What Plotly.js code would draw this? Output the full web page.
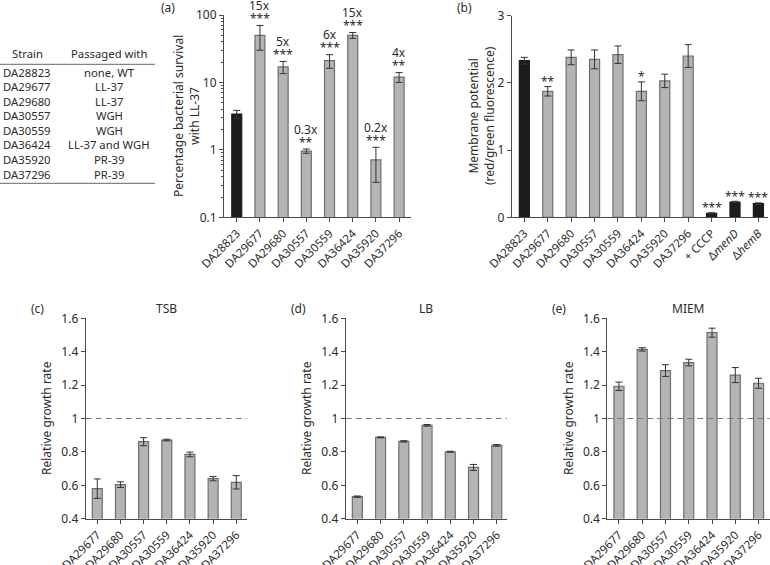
<!DOCTYPE html>
<html>
<head>
<meta charset="utf-8">
<script src="https://cdn.plot.ly/plotly-3.0.1.min.js"></script>
<style>html,body{margin:0;padding:0;background:#fff}#chart{width:770px;height:565px}</style>
</head>
<body>
<div id="chart"></div>
<script>
// ---------- data ----------
const tableStrains = ["DA28823","DA29677","DA29680","DA30557","DA30559","DA36424","DA35920","DA37296"];
const tablePassaged = ["none, WT","LL-37","LL-37","WGH","WGH","LL-37 and WGH","PR-39","PR-39"];

const strainsA = ["DA28823","DA29677","DA29680","DA30557","DA30559","DA36424","DA35920","DA37296"];
const survivalA = [3.4, 50, 17, 0.96, 21, 50, 0.71, 12];
const survivalErrA = [0.45, 20, 3.5, 0.07, 4.8, 5, 0.38, 2];
const foldA = ["", "15x", "5x", "0.3x", "6x", "15x", "0.2x", "4x"];
const sigA = ["", "***", "***", "**", "***", "***", "***", "**"];

const strainsB = ["DA28823","DA29677","DA29680","DA30557","DA30559","DA36424","DA35920","DA37296","+ CCCP","Δ<i>menD</i>","Δ<i>hemB</i>"];
const potentialB = [2.33, 1.875, 2.38, 2.35, 2.42, 1.875, 2.03, 2.40, 0.06, 0.228, 0.203];
const potentialErrB = [0.05, 0.07, 0.11, 0.14, 0.13, 0.14, 0.1, 0.17, 0.008, 0.01, 0.012];
const sigB = ["", "**", "", "", "", "*", "", "", "***", "***", "***"];
const blackB = [true, false, false, false, false, false, false, false, true, true, true];

const strainsG = ["DA29677","DA29680","DA30557","DA30559","DA36424","DA35920","DA37296"];
const growthTSB = [0.58, 0.604, 0.861, 0.871, 0.785, 0.64, 0.618];
const growthTSBErr = [0.058, 0.017, 0.024, 0.005, 0.014, 0.013, 0.04];
const growthLB = [0.532, 0.887, 0.863, 0.959, 0.801, 0.707, 0.839];
const growthLBErr = [0.004, 0.003, 0.004, 0.005, 0.003, 0.018, 0.005];
const growthMIEM = [1.193, 1.414, 1.287, 1.335, 1.514, 1.26, 1.211];
const growthMIEMErr = [0.025, 0.01, 0.035, 0.02, 0.027, 0.045, 0.03];

// ---------- style ----------
const W = 770, H = 565;
const FONT = "Noto Sans, Open Sans, sans-serif";
const TXT = "#2b2b2b";
const AX = "#4a4a4a";
const GRAY = "#b4b4b4", GRAYLINE = "#6e6e6e", BLACK = "#1c1c1c";
const BARW = 0.43;
const xd = (a, b) => [a / W, b / W];
const yd = (top, bot) => [1 - bot / H, 1 - top / H];

const errStyle = arr => ({type: "data", array: arr, visible: true, color: "#333", thickness: 1, width: 3.5});

function barTrace(x, y, err, colors, xa, ya) {
  return {
    type: "bar", x: x, y: y, width: BARW, xaxis: xa, yaxis: ya,
    marker: {color: colors, line: {color: colors.map(c => c === BLACK ? BLACK : GRAYLINE), width: 1.2}},
    error_y: errStyle(err), hoverinfo: "skip", showlegend: false
  };
}

const traces = [
  barTrace(strainsA, survivalA, survivalErrA, strainsA.map((s, i) => i === 0 ? BLACK : GRAY), "x", "y"),
  barTrace(strainsB, potentialB, potentialErrB, blackB.map(b => b ? BLACK : GRAY), "x2", "y2"),
  barTrace(strainsG, growthTSB, growthTSBErr, strainsG.map(() => GRAY), "x3", "y3"),
  barTrace(strainsG, growthLB, growthLBErr, strainsG.map(() => GRAY), "x4", "y4"),
  barTrace(strainsG, growthMIEM, growthMIEMErr, strainsG.map(() => GRAY), "x5", "y5")
];

function xAxis(domain, range, anchor) {
  return {
    domain: domain, range: range, anchor: anchor, type: "category",
    showline: true, linecolor: AX, linewidth: 1, ticks: "outside", ticklen: 4, tickcolor: AX,
    tickangle: -45, tickfont: {size: 11.5, color: TXT, family: FONT},
    showgrid: false, zeroline: false, fixedrange: true
  };
}
function yAxis(domain, range, anchor, extra) {
  return Object.assign({
    domain: domain, range: range, anchor: anchor,
    showline: true, linecolor: AX, linewidth: 1, ticks: "outside", ticklen: 4, tickcolor: AX,
    tickfont: {size: 12, color: TXT, family: FONT},
    showgrid: false, zeroline: false, fixedrange: true
  }, extra || {});
}

const yTopA = yd(15, 217.3);
const yBot = yd(318.3, 518.7);

const layout = {
  width: W, height: H,
  margin: {l: 0, r: 0, t: 0, b: 0},
  paper_bgcolor: "#fff", plot_bgcolor: "rgba(0,0,0,0)",
  font: {family: FONT, color: TXT, size: 12},
  xaxis: xAxis(xd(224, 410.7), [-0.55, 7.5], "y"),
  yaxis: yAxis(yTopA, [-1, 2], "x", {type: "log", dtick: 1,
    minor: {dtick: "D1", ticks: "outside", ticklen: 2, tickcolor: AX, showgrid: false}}),
  xaxis2: xAxis(xd(511.7, 768), [-0.54, 10.41], "y2"),
  yaxis2: yAxis(yd(15.7, 217.3), [0, 3], "x2", {dtick: 1}),
  xaxis3: xAxis(xd(85.7, 246.7), [-0.5, 6.45], "y3"),
  yaxis3: yAxis(yBot, [0.4, 1.6], "x3", {dtick: 0.2}),
  xaxis4: xAxis(xd(345.7, 507), [-0.5, 6.44], "y4"),
  yaxis4: yAxis(yBot, [0.4, 1.6], "x4", {dtick: 0.2}),
  xaxis5: xAxis(xd(607.3, 769.5), [-0.5, 6.47], "y5"),
  yaxis5: yAxis(yBot, [0.4, 1.6], "x5", {dtick: 0.2}),
  shapes: [],
  annotations: []
};

// dashed reference lines at 1
["3", "4", "5"].forEach(k => {
  layout.shapes.push({type: "line", xref: "x" + k + " domain", yref: "y" + k, x0: 0, x1: 1, y0: 1, y1: 1,
    line: {color: "#7a7a7a", width: 1.2, dash: "6px,4px"}, layer: "above"});
});

// table
const tableLeft = 0, tableRight = 155;
layout.shapes.push({type: "line", xref: "paper", yref: "paper", x0: tableLeft / W, x1: tableRight / W, y0: 1 - 64.3 / H, y1: 1 - 64.3 / H, line: {color: "#666", width: 1}});
layout.shapes.push({type: "line", xref: "paper", yref: "paper", x0: tableLeft / W, x1: tableRight / W, y0: 1 - 183.3 / H, y1: 1 - 183.3 / H, line: {color: "#666", width: 1}});
function paperText(text, px, py, opts) {
  layout.annotations.push(Object.assign({
    text: text, xref: "paper", yref: "paper", x: px / W, y: 1 - py / H,
    xanchor: "center", yanchor: "middle", showarrow: false, font: {size: 12, color: TXT, family: FONT}
  }, opts || {}));
}
const tableFont = {size: 11.3, color: TXT, family: FONT};
const tableOpts = {font: tableFont, borderpad: 0};
paperText("Strain", 27.5, 54, tableOpts);
paperText("Passaged with", 109, 54, tableOpts);
tableStrains.forEach((s, i) => {
  const py = 72 + i * 14.6;
  paperText(s, 27, py, tableOpts);
  paperText(tablePassaged[i], 109, py, tableOpts);
});

// panel labels
paperText("(a)", 168, 7);
paperText("(b)", 464, 7);
paperText("(c)", 37, 308);
paperText("(d)", 298, 308);
paperText("(e)", 559, 308);
paperText("TSB", 166, 308);
paperText("LB", 426, 308);
paperText("MIEM", 688, 308);

// axis titles
paperText("Percentage bacterial survival<br>with LL-37", 186, 116, {textangle: -90});
paperText("Membrane potential<br>(red/green fluorescence)", 481, 116, {textangle: -90});
paperText("Relative growth rate", 46, 418, {textangle: -90});
paperText("Relative growth rate", 306, 418, {textangle: -90});
paperText("Relative growth rate", 568, 418, {textangle: -90});

// significance annotations (a)
strainsA.forEach((s, i) => {
  if (!sigA[i]) return;
  const yTop = Math.log10(survivalA[i] + survivalErrA[i]);
  layout.annotations.push({
    text: sigA[i], xref: "x", yref: "y", x: s, y: yTop, yanchor: "middle", yshift: 7,
    showarrow: false, font: {size: 12, color: TXT, family: FONT}
  });
  layout.annotations.push({
    text: foldA[i], xref: "x", yref: "y", x: s, y: yTop, yanchor: "middle", yshift: 20,
    showarrow: false, font: {size: 12, color: TXT, family: FONT}
  });
});
// significance annotations (b)
strainsB.forEach((s, i) => {
  if (!sigB[i]) return;
  layout.annotations.push({
    text: sigB[i], xref: "x2", yref: "y2", x: s,
    y: potentialB[i] + potentialErrB[i], yanchor: "middle", yshift: 5,
    showarrow: false, font: {size: 12, color: TXT, family: FONT}
  });
});

Plotly.newPlot("chart", traces, layout, {staticPlot: true, displayModeBar: false});
</script>
</body>
</html>
